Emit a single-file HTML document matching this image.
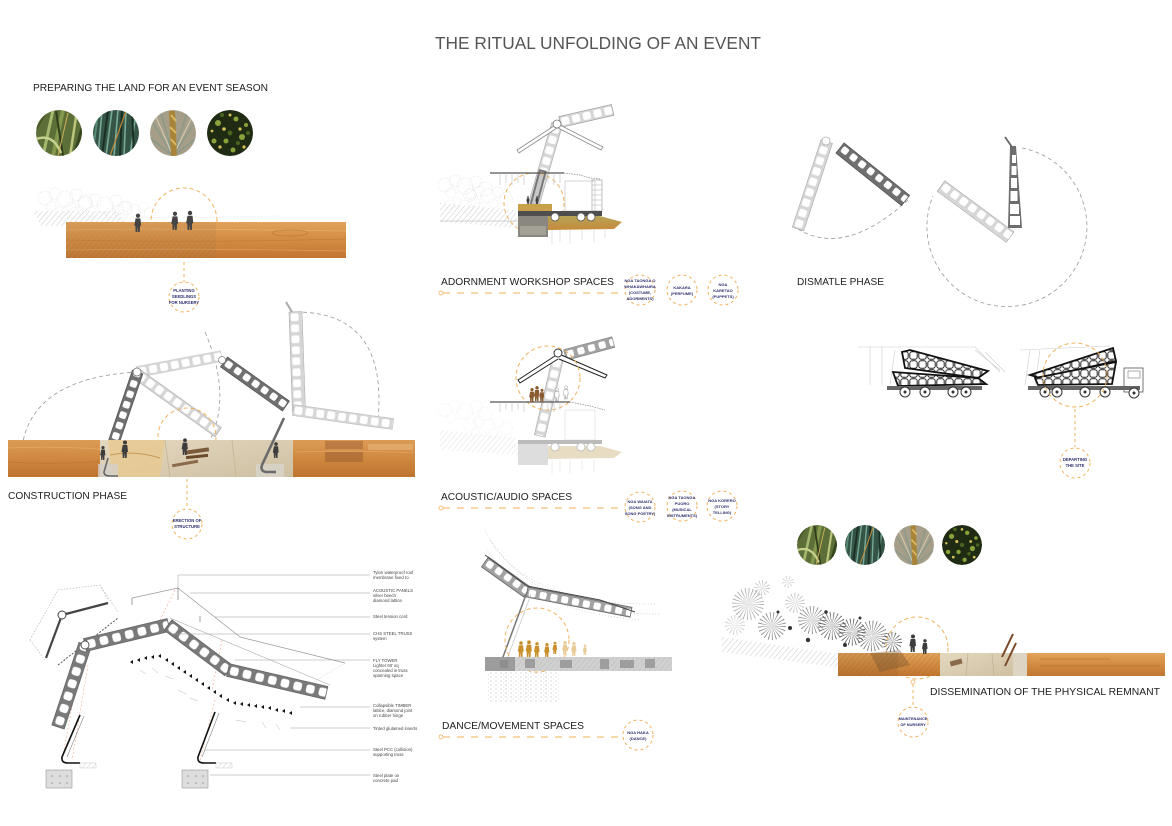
<!DOCTYPE html>
<html><head><meta charset="utf-8"><title>The Ritual Unfolding of an Event</title>
<style>html,body{margin:0;padding:0;background:#fff;}svg{display:block;}text{font-family:"Liberation Sans",sans-serif;}</style></head>
<body>
<svg width="1172" height="826" viewBox="0 0 1172 826" xmlns="http://www.w3.org/2000/svg">
<defs>
<pattern id="dk" width="11" height="11" patternUnits="userSpaceOnUse"><rect width="11" height="11" fill="#707070"/><rect x="2" y="2" width="7" height="7" rx="2" fill="#fff"/></pattern>
<pattern id="md" width="11" height="11" patternUnits="userSpaceOnUse"><rect width="11" height="11" fill="#a2a2a2"/><rect x="2" y="2" width="7" height="7" rx="2" fill="#fff"/></pattern>
<pattern id="lt" width="11" height="11" patternUnits="userSpaceOnUse"><rect width="11" height="11" fill="#d6d6d6"/><rect x="1.6" y="1.6" width="7.8" height="7.8" rx="2" fill="#fff"/></pattern>
<pattern id="dk13" width="13" height="13" patternUnits="userSpaceOnUse"><rect width="13" height="13" fill="#7a7a7a"/><rect x="2.3" y="2.3" width="8.4" height="8.4" rx="2.4" fill="#fff"/></pattern>
<pattern id="bk" width="9" height="9" patternUnits="userSpaceOnUse"><rect width="9" height="9" fill="#fff"/><rect x="0.8" y="0.8" width="7.4" height="7.4" rx="2.2" fill="none" stroke="#222" stroke-width="1"/></pattern>
<pattern id="hatch" width="4" height="4" patternUnits="userSpaceOnUse" patternTransform="rotate(40)"><line x1="0" y1="0" x2="0" y2="4" stroke="#b5b5b5" stroke-width="0.7"/></pattern>
<pattern id="hatchD" width="4" height="4" patternUnits="userSpaceOnUse" patternTransform="rotate(40)"><line x1="0" y1="0" x2="0" y2="4" stroke="#8a5a2a" stroke-width="0.6"/></pattern>
<pattern id="dots" width="5" height="4" patternUnits="userSpaceOnUse"><circle cx="1" cy="1" r="0.5" fill="#999"/><circle cx="3.5" cy="3" r="0.4" fill="#bbb"/></pattern>
<linearGradient id="wood" x1="0" y1="0" x2="0" y2="1"><stop offset="0" stop-color="#e2a35a"/><stop offset="0.45" stop-color="#d48e44"/><stop offset="1" stop-color="#c27630"/></linearGradient>
<linearGradient id="wood2" x1="0" y1="0" x2="0" y2="1"><stop offset="0" stop-color="#dc9c55"/><stop offset="0.5" stop-color="#cf8840"/><stop offset="1" stop-color="#bd742f"/></linearGradient>
<linearGradient id="stone" x1="0" y1="0" x2="1" y2="1"><stop offset="0" stop-color="#e4d8c0"/><stop offset="1" stop-color="#cfc0a2"/></linearGradient>
<linearGradient id="olive" x1="0" y1="0" x2="0" y2="1"><stop offset="0" stop-color="#b7a458"/><stop offset="1" stop-color="#c68a3a"/></linearGradient>
<g id="person"><circle cx="0" cy="-15.5" r="2"/><path d="M-2.3,-13 h4.6 l0.7,7 h-1.1 l-0.2,6 h-1.6 l-0.4,-5 -0.4,5 h-1.6 l-0.2,-6 h-1.100z"/></g>
<clipPath id="cc"><circle cx="0" cy="0" r="23"/></clipPath>
<g id="c1"><g clip-path="url(#cc)"><circle r="23" fill="#5d6f38"/>
<path d="M-16,23 L-6,-23" stroke="#a6b86e" stroke-width="3"/><path d="M-6,23 L4,-23" stroke="#84984e" stroke-width="4"/><path d="M4,23 L-3,-22" stroke="#2f3d1a" stroke-width="2"/><path d="M11,23 L17,-16" stroke="#bcc67c" stroke-width="2.5"/><path d="M-23,6 Q-6,0 2,20" stroke="#c6d28c" stroke-width="2.5" fill="none"/><path d="M15,23 L23,-5" stroke="#36461e" stroke-width="3"/><path d="M-23,-4 L-12,-23" stroke="#4a5a2a" stroke-width="3"/><path d="M-1,23 L9,-20" stroke="#d2b25a" stroke-width="1"/></g></g>
<g id="c2"><g clip-path="url(#cc)"><circle r="23" fill="#345446"/>
<path d="M-18,23 L-14,-23 M-10,23 L-4,-23 M-2,23 L2,-23 M8,23 L10,-23 M14,23 L20,-20" stroke="#79aa98" stroke-width="1.6"/><path d="M-14,23 L-8,-23 M4,23 L6,-23 M18,23 L16,-23" stroke="#1c2f25" stroke-width="2"/><path d="M-6,23 L10,-22" stroke="#c08a3a" stroke-width="1.2"/><path d="M-22,10 L-18,-20" stroke="#5b8a76" stroke-width="2"/></g></g>
<g id="c3"><g clip-path="url(#cc)"><circle r="23" fill="#a69e88"/>
<path d="M0,23 L-20,-10 M0,23 L-12,-20 M0,23 L20,-8 M0,23 L14,-20 M0,23 L-23,5 M0,23 L23,6" stroke="#8a9a8a" stroke-width="1.5"/><path d="M0,23 L-17,-16 M0,23 L18,-14" stroke="#d0c8b0" stroke-width="1.2"/><path d="M1,23 L-1,-22" stroke="#a8843a" stroke-width="6"/><path d="M-2,-18 L3,-12 M-3,-6 L3,0 M-2,6 L3,12" stroke="#d8b860" stroke-width="2"/></g></g>
<g id="c4"><g clip-path="url(#cc)"><circle r="23" fill="#1f2b12"/>
<g fill="#8aa23a"><circle cx="-12" cy="-10" r="3"/><circle cx="6" cy="-14" r="2.5"/><circle cx="12" cy="4" r="3"/><circle cx="-4" cy="8" r="2.5"/><circle cx="-16" cy="8" r="2.5"/><circle cx="3" cy="17" r="2.5"/><circle cx="16" cy="-8" r="2"/></g>
<g fill="#d6c25a"><circle cx="-6" cy="-4" r="1.8"/><circle cx="10" cy="-4" r="1.6"/><circle cx="-10" cy="14" r="1.6"/><circle cx="14" cy="14" r="1.6"/><circle cx="0" cy="-18" r="1.5"/><circle cx="-18" cy="-2" r="1.4"/></g>
<g fill="#4a6420"><circle cx="0" cy="0" r="2.5"/><circle cx="-8" cy="-18" r="2"/><circle cx="18" cy="0" r="2"/><circle cx="8" cy="10" r="2"/></g></g></g>
<g id="sk" fill="none" stroke="#d6d6d6" stroke-width="0.6" stroke-dasharray="1.2 1.3" opacity="0.8"><circle cx="0" cy="0" r="7"/><circle cx="10" cy="-4" r="6"/><circle cx="20" cy="1" r="8"/><circle cx="31" cy="-3" r="6"/><circle cx="6" cy="8" r="5"/><circle cx="26" cy="9" r="5"/><circle cx="40" cy="4" r="7"/></g>
</defs>

<!-- TITLE -->
<text x="435" y="49" font-size="17.5" fill="#555" textLength="326" lengthAdjust="spacingAndGlyphs">THE RITUAL UNFOLDING OF AN EVENT</text>

<!-- ============ PREPARING THE LAND ============ -->
<text x="33" y="91" font-size="10.5" fill="#222" textLength="235" lengthAdjust="spacingAndGlyphs">PREPARING THE LAND FOR AN EVENT SEASON</text>
<use href="#c1" transform="translate(59,133)"/>
<use href="#c2" transform="translate(116,133)"/>
<use href="#c3" transform="translate(173,133)"/>
<use href="#c4" transform="translate(230,133)"/>

<use href="#sk" transform="translate(45,198)"/>
<use href="#sk" transform="translate(85,204)"/>
<use href="#sk" transform="translate(118,210) scale(0.8)"/>
<use href="#sk" transform="translate(60,212) scale(0.7)"/>
<polygon points="33,211 118,211 126,226 41,226" fill="url(#hatch)"/>
<line x1="150" y1="218" x2="280" y2="216" stroke="#ddd" stroke-width="0.6" stroke-dasharray="1 2"/>
<circle cx="184" cy="221" r="33" fill="none" stroke="#f0b35e" stroke-width="1" stroke-dasharray="4 3"/>
<rect x="66" y="222" width="280" height="36" fill="url(#wood)"/>
<g stroke-width="0.8" fill="none"><path d="M66,230 Q160,228 346,231" stroke="#e9b777" opacity="0.7"/><path d="M66,240 Q200,243 346,239" stroke="#b8702e" opacity="0.5"/><path d="M66,250 Q200,248 346,251" stroke="#e8b070" opacity="0.6"/><ellipse cx="290" cy="233" rx="18" ry="3" stroke="#b06a2a" opacity="0.6"/></g>
<rect x="66" y="222" width="150" height="36" fill="url(#hatch)" opacity="0.5"/>
<rect x="66" y="222" width="150" height="36" fill="#a06030" opacity="0.12"/>
<line x1="184" y1="262" x2="184" y2="282" stroke="#f0b35e" stroke-width="1" stroke-dasharray="3 3"/>
<g fill="#444"><use href="#person" transform="translate(138,232) scale(1.05)"/><use href="#person" transform="translate(175,230) scale(1.05)"/><use href="#person" transform="translate(190,230) scale(1.1)"/></g>
<circle cx="184" cy="297" r="15" fill="#fff" stroke="#f0b35e" stroke-width="1" stroke-dasharray="3 3"/>
<g font-size="4.2" font-weight="bold" fill="#2e3070" text-anchor="middle"><text x="184" y="292">PLANTING</text><text x="184" y="298">SEEDLINGS</text><text x="184" y="304">FOR NURSERY</text></g>

<!-- ============ CONSTRUCTION PHASE ============ -->
<g fill="none" stroke="#9a9a9a" stroke-width="0.8" stroke-dasharray="4 3"><path d="M22,447 Q32,378 137,372"/><path d="M296,312 Q388,312 378,420"/><path d="M205,332 Q232,395 210,440"/></g>
<g transform="translate(137,372) rotate(-10.7) translate(0,-5.5)"><rect width="86" height="11" fill="url(#lt)" stroke="#ccc" stroke-width="0.5"/></g>
<g transform="translate(137,374) rotate(35.6) translate(0,-5.5)"><rect width="100" height="11" fill="url(#lt)" stroke="#aaa" stroke-width="0.6"/></g>
<g transform="translate(289,312) rotate(-2)"><rect width="13" height="100" fill="url(#lt)" stroke="#aaa" stroke-width="0.6"/></g>
<g transform="translate(293,410) rotate(8) translate(0,-5.5)"><rect width="101" height="11" fill="url(#lt)" stroke="#bbb" stroke-width="0.5"/></g>
<g transform="translate(224,362) rotate(35.4) translate(0,-6)"><rect width="76" height="12" fill="url(#dk)" stroke="#555" stroke-width="0.8"/></g>
<g transform="translate(107,462) rotate(-71.2) translate(0,-5.5)"><rect width="95" height="11" fill="url(#dk)" stroke="#555" stroke-width="0.8"/></g>
<circle cx="137" cy="372" r="4" fill="#fff" stroke="#777" stroke-width="0.8"/>
<circle cx="222" cy="360" r="3.5" fill="#fff" stroke="#888" stroke-width="0.8"/>
<path d="M292,312 L286,302" stroke="#aaa" stroke-width="2"/>
<circle cx="187" cy="437" r="29" fill="none" stroke="#f0b35e" stroke-width="1" stroke-dasharray="4 3"/>
<rect x="8" y="440" width="407" height="37" fill="url(#wood2)"/>
<g stroke-width="0.8" fill="none"><path d="M8,448 Q50,446 100,449" stroke="#eab070" opacity="0.7"/><path d="M8,462 Q60,465 100,461" stroke="#b26a2a" opacity="0.5"/><path d="M295,452 Q350,450 415,453" stroke="#e8b070" opacity="0.6"/></g>
<polygon points="100,440 293,440 293,477 100,477" fill="url(#stone)"/>
<polygon points="108,440 165,440 160,477 112,477" fill="#e7c992" opacity="0.85"/>
<path d="M110,455 Q135,450 160,458" stroke="#c89a5a" stroke-width="1" fill="none"/>
<rect x="185" y="449" width="24" height="4" fill="#7a5a3a" transform="rotate(-8 197 451)"/>
<rect x="186" y="455" width="22" height="3" fill="#6a4a2a" transform="rotate(-6 197 456)"/>
<rect x="172" y="462" width="26" height="3" fill="#8a6a4a" transform="rotate(-10 185 463)"/>
<path d="M165,440 L170,477 M232,440 L236,477" stroke="#c4b494" stroke-width="0.8"/>
<rect x="325" y="441" width="38" height="8" fill="#a8693a" opacity="0.6"/><rect x="325" y="452" width="38" height="10" fill="#9a5e32" opacity="0.55"/><rect x="368" y="444" width="45" height="6" fill="#e6b57c" opacity="0.6"/>
<rect x="98" y="464" width="20" height="13" fill="#d4d0c8" opacity="0.8"/><rect x="256" y="464" width="28" height="13" fill="#d8d4cc" opacity="0.8"/>
<path d="M108,458 L104,472 Q104,476 110,476 L118,476" stroke="#666" stroke-width="1.6" fill="none"/>
<path d="M284,418 L262,465 Q260,471 266,472 L276,472" stroke="#6b6b6b" stroke-width="2.6" fill="none"/>
<g fill="#3d3d3d"><use href="#person" transform="translate(103,460) scale(0.8)"/><use href="#person" transform="translate(125,458) scale(1)"/><use href="#person" transform="translate(185,455) scale(0.95)"/><use href="#person" transform="translate(276,458) scale(0.9)"/></g>
<text x="8" y="499" font-size="10.5" fill="#222" textLength="119" lengthAdjust="spacingAndGlyphs">CONSTRUCTION PHASE</text>
<line x1="187" y1="479" x2="187" y2="508" stroke="#f0b35e" stroke-width="1" stroke-dasharray="3 3"/>
<circle cx="187" cy="524" r="15" fill="#fff" stroke="#f0b35e" stroke-width="1" stroke-dasharray="3 3"/>
<g font-size="4.2" font-weight="bold" fill="#2e3070" text-anchor="middle"><text x="187" y="522">ERECTION OF</text><text x="187" y="528">STRUCTURE</text></g>

<!-- ============ STRUCTURAL DIAGRAM (bottom-left) ============ -->
<g fill="none" stroke="#b0b0b0" stroke-width="0.6" stroke-dasharray="1.5 1.5"><path d="M30,640 L58,590 L100,585 L108,600"/><path d="M30,640 L45,660"/><path d="M100,585 L118,612"/></g>
<path d="M62,615 L46,658" stroke="#444" stroke-width="2.2"/><path d="M62,615 L108,603" stroke="#444" stroke-width="2.2"/>
<circle cx="62" cy="615" r="4" fill="#fff" stroke="#444" stroke-width="1"/>
<path d="M58,665 L118,618" stroke="#555" stroke-width="1" stroke-dasharray="2 1.5"/>
<path d="M132,598 L178,588 L240,637 L345,663" fill="none" stroke="#999" stroke-width="0.7"/>
<path d="M132,598 L132,605 M178,588 L178,600 M200,616 L200,622" stroke="#777" stroke-width="0.7"/>
<path d="M345,663 L300,690" stroke="#bbb" stroke-width="0.5" stroke-dasharray="1 1.5"/>
<g stroke="#f2a890" stroke-width="0.6" stroke-dasharray="2 2" fill="none"><path d="M80,665 L62,760"/><path d="M88,665 L72,760"/><path d="M215,700 L200,760"/><path d="M175,590 L160,620"/><path d="M222,640 L212,690"/></g>
<g transform="translate(58,727) rotate(-71.8) translate(0,-6.5)"><rect width="87" height="13" fill="url(#dk13)" stroke="#666" stroke-width="0.8"/></g>
<g transform="translate(85,645) rotate(-13.5) translate(0,-6.5)"><rect width="86" height="13" fill="url(#dk13)" stroke="#666" stroke-width="0.8"/></g>
<g transform="translate(168,625) rotate(36.9) translate(0,-6.5)"><rect width="76" height="13" fill="url(#dk13)" stroke="#666" stroke-width="0.8"/></g>
<g transform="translate(228,670) rotate(13.1) translate(0,-6.5)"><rect width="101" height="13" fill="url(#dk13)" stroke="#666" stroke-width="0.8"/></g>
<path d="M170,618 L330,685" stroke="#aaa" stroke-width="0.6"/>
<circle cx="85" cy="645" r="4" fill="#fff" stroke="#555" stroke-width="1"/>
<g fill="#111"><path d="M130,662 l3,-2 l0,4z"/><path d="M137,660 l3,-2 l0,4z"/><path d="M144,658 l3,-2 l0,4z"/><path d="M151,657 l3,-2 l0,4z"/><path d="M158,656 l3,-2 l0,4z"/><path d="M165,660 l3,-2 l0,4z"/><path d="M171,664 l3,-2 l0,4z"/><path d="M177,668 l3,-2 l0,4z"/><path d="M183,672 l3,-2 l0,4z"/><path d="M189,676 l3,-2 l0,4z"/><path d="M195,680 l3,-2 l0,4z"/><path d="M201,684 l3,-2 l0,4z"/><path d="M207,688 l3,-2 l0,4z"/><path d="M213,692 l3,-2 l0,4z"/><path d="M219,696 l3,-2 l0,4z"/><path d="M226,700 l3,-2 l0,4z"/><path d="M233,703 l3,-2 l0,4z"/><path d="M240,704 l3,-2 l0,4z"/><path d="M247,705 l3,-2 l0,4z"/><path d="M254,706 l3,-2 l0,4z"/><path d="M261,707 l3,-2 l0,4z"/><path d="M268,708 l3,-2 l0,4z"/><path d="M275,710 l3,-2 l0,4z"/><path d="M282,711 l3,-2 l0,4z"/><path d="M289,713 l3,-2 l0,4z"/></g>
<g stroke="#bbb" stroke-width="0.5" fill="none"><path d="M140,670 l6,4 M152,668 l6,5 M165,676 l8,3 M178,690 l8,4 M190,698 l8,3 M236,720 l10,2 M262,722 l4,6 M276,724 l4,6"/></g>
<path d="M80,715 L62,757 Q61,763 68,763 L80,763" stroke="#111" stroke-width="1.6" fill="none"/>
<path d="M84,716 L67,757" stroke="#888" stroke-width="0.6"/>
<path d="M215,712 L198,757 Q197,763 204,763 L216,763" stroke="#111" stroke-width="1.6" fill="none"/>
<path d="M219,713 L202,757" stroke="#888" stroke-width="0.6"/>
<rect x="80" y="763" width="16" height="5" fill="url(#hatch)" stroke="#bbb" stroke-width="0.4"/><rect x="216" y="763" width="16" height="5" fill="url(#hatch)" stroke="#bbb" stroke-width="0.4"/>
<rect x="46" y="770" width="26" height="18" fill="#ddd" stroke="#999" stroke-width="0.6"/><rect x="182" y="770" width="26" height="18" fill="#ddd" stroke="#999" stroke-width="0.6"/>
<g fill="#999"><circle cx="52" cy="776" r="0.8"/><circle cx="60" cy="776" r="0.8"/><circle cx="67" cy="776" r="0.8"/><circle cx="52" cy="783" r="0.8"/><circle cx="60" cy="783" r="0.8"/><circle cx="67" cy="783" r="0.8"/><circle cx="188" cy="776" r="0.8"/><circle cx="196" cy="776" r="0.8"/><circle cx="203" cy="776" r="0.8"/><circle cx="188" cy="783" r="0.8"/><circle cx="196" cy="783" r="0.8"/><circle cx="203" cy="783" r="0.8"/></g>
<g stroke="#999" stroke-width="0.5"><path d="M178,575 L370,575 M178,575 L178,588"/><path d="M190,593 L370,593"/><path d="M215,617 L370,617"/><path d="M172,634 L370,634"/><path d="M235,660 L370,660"/><path d="M300,707 L370,707"/><path d="M290,728 L370,728"/><path d="M205,750 L370,750"/><path d="M210,775 L370,775"/></g>
<g font-family="'Liberation Serif',serif" font-size="4.3" fill="#444">
<text x="373" y="574">Tylon waterproof roof</text><text x="373" y="579">membrane fixed to</text>
<text x="373" y="592">ACOUSTIC PANELS</text><text x="373" y="597">silver beech</text><text x="373" y="602">diamond lattice</text>
<text x="373" y="618">Steel tension cord</text>
<text x="373" y="635">CHS STEEL TRUSS</text><text x="373" y="640">system</text>
<text x="373" y="662">FLY TOWER</text><text x="373" y="667">Lighter 60' sq</text><text x="373" y="672">concealed in truss</text><text x="373" y="677">spanning space</text>
<text x="373" y="707">Collapsible TIMBER</text><text x="373" y="712">lattice, diamond joint</text><text x="373" y="717">on rubber hinge</text>
<text x="373" y="730">Tinted glulamed inserts</text>
<text x="373" y="751">Steel PCC (collision)</text><text x="373" y="756">supporting truss</text>
<text x="373" y="777">Steel plate on</text><text x="373" y="782">concrete pad</text></g>

<!-- ============ ADORNMENT ============ -->
<use href="#sk" transform="translate(445,185)"/><use href="#sk" transform="translate(470,195) scale(0.9)"/><use href="#sk" transform="translate(450,205) scale(0.7)"/>
<polygon points="440,203 515,210 520,228 440,222" fill="url(#hatch)"/>
<line x1="440" y1="221" x2="520" y2="221" stroke="#aaa" stroke-width="0.6"/>
<g transform="translate(557,124) rotate(106.1) translate(0,-5.5)"><rect width="86" height="11" fill="url(#lt)" stroke="#aaa" stroke-width="0.6"/></g>
<g transform="translate(543,170) rotate(105) translate(0,-4)"><rect width="38" height="8" fill="#777"/><rect x="2" y="2" width="34" height="4" fill="#fff" opacity="0.6"/></g>
<g transform="translate(560,122) rotate(-13) translate(0,-5.5)"><rect width="54" height="11" fill="url(#lt)" stroke="#999" stroke-width="0.7"/></g>
<path d="M557,124 L517,150 L519,153 L557,128" fill="#fff" stroke="#888" stroke-width="0.8"/>
<path d="M558,124 L603,147 L601,150 L558,128" fill="#fff" stroke="#888" stroke-width="0.8"/>
<circle cx="557" cy="124" r="4" fill="#fff" stroke="#777" stroke-width="0.8"/>
<circle cx="534" cy="203" r="30" fill="none" stroke="#f0b35e" stroke-width="1" stroke-dasharray="4 3"/>
<line x1="490" y1="173" x2="564" y2="173" stroke="#555" stroke-width="1.2"/>
<path d="M564,173 L572,174 L580,175 L590,178 L600,179" stroke="#888" stroke-width="0.7" stroke-dasharray="1.5 1" fill="none"/>
<g stroke="#b5b5b5" stroke-width="0.5"><path d="M500,173v12 M506,173v10 M512,173v12 M518,173v10 M524,173v12 M548,173v10 M554,173v12 M560,173v10"/></g>
<rect x="565" y="181" width="30" height="30" fill="none" stroke="#bbb" stroke-width="0.6"/>
<rect x="592" y="180" width="10" height="31" fill="none" stroke="#999" stroke-width="0.6"/>
<g stroke="#aaa" stroke-width="0.5"><path d="M592,185h10 M592,190h10 M592,195h10 M592,200h10 M592,205h10"/></g>
<rect x="518" y="216" width="30" height="21" fill="#8a887e"/><rect x="520" y="226" width="26" height="9" fill="#a5a095"/>
<polygon points="548,216 600,216 622,222 614,229 548,230" fill="url(#olive)"/>
<rect x="518" y="211" width="84" height="5" fill="#4e4e4e"/>
<rect x="518" y="204" width="34" height="7" fill="#c9a04c"/>
<g fill="#3a3a3a"><use href="#person" transform="translate(528,204) scale(0.45)"/><use href="#person" transform="translate(537,204) scale(0.45)"/></g>
<g fill="#fff" stroke="#555" stroke-width="0.8"><circle cx="555" cy="217" r="4"/><circle cx="581" cy="217" r="4"/><circle cx="591" cy="217" r="4"/></g>
<g stroke="#ccc" stroke-width="0.5"><path d="M552,230v14 M560,230v12 M570,230v14 M582,230v10 M594,230v12 M605,228v10"/></g>
<text x="441" y="285" font-size="10.5" fill="#222" textLength="173" lengthAdjust="spacingAndGlyphs">ADORNMENT WORKSHOP SPACES</text>
<line x1="443" y1="293" x2="625" y2="293" stroke="#f0b35e" stroke-width="1" stroke-dasharray="7 7"/>
<circle cx="441" cy="293" r="2" fill="#fff" stroke="#f0b35e" stroke-width="0.8"/>
<g fill="#fff" stroke="#f0b35e" stroke-width="1" stroke-dasharray="3 3"><circle cx="640" cy="290" r="15"/><circle cx="682" cy="290" r="15"/><circle cx="723" cy="290" r="15"/></g>
<g font-size="4" font-weight="bold" fill="#2e3070" text-anchor="middle">
<text x="640" y="282">NGA TAONGA O</text><text x="640" y="288">WHAKAWHAIRA</text><text x="640" y="294">(COSTUME,</text><text x="640" y="300">ADORMENTS)</text>
<text x="682" y="289">KAKARA</text><text x="682" y="295">(PERFUME)</text>
<text x="723" y="286">NGA</text><text x="723" y="292">KARETAO</text><text x="723" y="298">(PUPPETS)</text></g>

<!-- ============ ACOUSTIC ============ -->
<use href="#sk" transform="translate(445,410)" opacity="0.6"/><use href="#sk" transform="translate(470,425) scale(0.9)" opacity="0.6"/>
<polygon points="440,430 515,437 520,455 440,450" fill="url(#hatch)" opacity="0.6"/>
<g transform="translate(558,358) rotate(103.2) translate(0,-5.5)"><rect width="80" height="11" fill="url(#lt)" stroke="#aaa" stroke-width="0.6"/></g>
<g transform="translate(565,355) rotate(-15) translate(0,-5.5)"><rect width="50" height="11" fill="url(#md)" stroke="#888" stroke-width="0.7"/></g>
<path d="M558,354 L518,380 L520,383 L558,359" fill="#fff" stroke="#222" stroke-width="1"/>
<path d="M559,354 L607,375 L605,378 L559,359" fill="#fff" stroke="#222" stroke-width="1"/>
<circle cx="558" cy="353" r="4" fill="#fff" stroke="#333" stroke-width="1"/>
<circle cx="548" cy="378" r="32" fill="none" stroke="#f0b35e" stroke-width="1" stroke-dasharray="4 3"/>
<line x1="490" y1="402" x2="570" y2="402" stroke="#555" stroke-width="1.2"/>
<path d="M570,402 L580,404 L590,406 L605,410" stroke="#888" stroke-width="0.7" stroke-dasharray="1.5 1" fill="none"/>
<g stroke="#b5b5b5" stroke-width="0.5"><path d="M500,402v10 M506,402v8 M512,402v10 M518,402v8 M524,402v10 M548,402v8 M554,402v10 M560,402v8"/></g>
<g fill="#8a5a30"><use href="#person" transform="translate(532,402) scale(0.8)"/><use href="#person" transform="translate(537,401) scale(0.85)"/><use href="#person" transform="translate(542,402) scale(0.75)"/></g>
<g fill="#fff" stroke="#777" stroke-width="0.5"><use href="#person" transform="translate(557,401) scale(0.75)"/><use href="#person" transform="translate(566,399) scale(0.75)"/></g>
<rect x="565" y="410" width="30" height="30" fill="none" stroke="#ddd" stroke-width="0.6"/>
<rect x="518" y="443" width="30" height="22" fill="#ddd"/>
<polygon points="548,446 600,446 622,452 614,458 548,459" fill="#e8dcc2"/>
<rect x="518" y="440" width="84" height="4" fill="#bbb"/>
<g fill="#fff" stroke="#bbb" stroke-width="0.8"><circle cx="555" cy="447" r="4"/><circle cx="581" cy="447" r="4"/><circle cx="591" cy="447" r="4"/></g>
<g stroke="#ddd" stroke-width="0.5"><path d="M552,460v14 M560,460v12 M570,460v14 M582,460v10 M594,460v12"/></g>
<text x="441" y="500" font-size="10.5" fill="#222" textLength="131" lengthAdjust="spacingAndGlyphs">ACOUSTIC/AUDIO SPACES</text>
<line x1="443" y1="508" x2="625" y2="508" stroke="#f0b35e" stroke-width="1" stroke-dasharray="7 7"/>
<circle cx="441" cy="508" r="2" fill="#fff" stroke="#f0b35e" stroke-width="0.8"/>
<g fill="#fff" stroke="#f0b35e" stroke-width="1" stroke-dasharray="3 3"><circle cx="640" cy="507" r="15"/><circle cx="682" cy="506" r="15"/><circle cx="722" cy="506" r="15"/></g>
<g font-size="4" font-weight="bold" fill="#2e3070" text-anchor="middle">
<text x="640" y="503">NGA WAIATA</text><text x="640" y="509">(SONG AND</text><text x="640" y="515">SONG POETRY)</text>
<text x="682" y="499">NGA TAONGA</text><text x="682" y="505">PUORO</text><text x="682" y="511">(MUSICAL</text><text x="682" y="517">INSTRUMENTS)</text>
<text x="722" y="502">NGA KORERO</text><text x="722" y="508">(STORY</text><text x="722" y="514">TELLING)</text></g>

<!-- ============ DANCE ============ -->
<g fill="none" stroke="#c8c8c8" stroke-width="0.7" stroke-dasharray="1 2"><path d="M485,530 Q520,605 655,604"/><path d="M490,540 Q540,615 660,614"/><path d="M486,548 Q525,610 640,620"/></g>
<g transform="translate(485,562) rotate(35.5) translate(0,-6)"><rect width="52" height="12" fill="url(#md)" stroke="#666" stroke-width="0.8"/></g>
<g transform="translate(527,592) rotate(11) translate(0,-5)"><rect width="106" height="10" fill="url(#md)" stroke="#666" stroke-width="0.8"/></g>
<path d="M485,555 L527,586 L600,600 L635,612" fill="none" stroke="#444" stroke-width="1"/>
<path d="M527,592 L500,665" stroke="#777" stroke-width="1.5"/><path d="M531,594 L505,665" stroke="#bbb" stroke-width="0.6"/>
<circle cx="537" cy="640" r="32" fill="none" stroke="#f0b35e" stroke-width="1" stroke-dasharray="4 3"/>
<rect x="485" y="657" width="187" height="14" fill="#d0d0d0"/>
<rect x="485" y="657" width="187" height="14" fill="url(#hatch)"/>
<g fill="#8a8a8a" opacity="0.7"><rect x="500" y="660" width="8" height="8"/><rect x="525" y="659" width="10" height="9"/><rect x="560" y="660" width="12" height="8"/><rect x="600" y="659" width="9" height="10"/><rect x="620" y="660" width="14" height="8"/><rect x="645" y="659" width="10" height="9"/></g>
<rect x="485" y="657" width="30" height="14" fill="#888" opacity="0.7"/>
<g fill="#c8902c"><use href="#person" transform="translate(521,657) scale(0.9)"/><use href="#person" transform="translate(529,657) scale(0.95)"/><use href="#person" transform="translate(537,657) scale(0.85)"/><use href="#person" transform="translate(547,657) scale(0.8)"/><use href="#person" transform="translate(555,654) scale(0.7)"/></g>
<g fill="#e8cc98"><use href="#person" transform="translate(565,655) scale(0.8)"/><use href="#person" transform="translate(574,656) scale(0.8)"/><use href="#person" transform="translate(585,655) scale(0.6)"/></g>
<rect x="488" y="672" width="72" height="30" fill="url(#dots)"/>
<text x="442" y="729" font-size="10.5" fill="#222" textLength="142" lengthAdjust="spacingAndGlyphs">DANCE/MOVEMENT SPACES</text>
<line x1="443" y1="737" x2="623" y2="737" stroke="#f0b35e" stroke-width="1" stroke-dasharray="7 7"/>
<circle cx="441" cy="737" r="2" fill="#fff" stroke="#f0b35e" stroke-width="0.8"/>
<circle cx="638" cy="735" r="15" fill="#fff" stroke="#f0b35e" stroke-width="1" stroke-dasharray="3 3"/>
<g font-size="4" font-weight="bold" fill="#2e3070" text-anchor="middle"><text x="638" y="734">NGA HAKA</text><text x="638" y="740">(DANCE)</text></g>

<!-- ============ DISMANTLE ============ -->
<path d="M798,229 Q845,258 909,199" fill="none" stroke="#999" stroke-width="0.8" stroke-dasharray="4 3"/>
<g transform="translate(798,229) rotate(-71.8) translate(0,-6)"><rect width="92" height="12" fill="url(#lt)" stroke="#aaa" stroke-width="0.6"/></g>
<circle cx="826" cy="141" r="4" fill="#fff" stroke="#aaa" stroke-width="0.7"/>
<g transform="translate(840,148) rotate(38.7) translate(0,-6.5)"><rect width="84" height="13" fill="url(#dk)" stroke="#555" stroke-width="0.8"/></g>
<path d="M1022,148 A80,80 0 1 1 933,196" fill="none" stroke="#999" stroke-width="0.8" stroke-dasharray="4 3"/>
<g transform="translate(941,186) rotate(36.5) translate(0,-6.5)"><rect width="86" height="13" fill="url(#lt)" stroke="#aaa" stroke-width="0.6"/></g>
<polygon points="1010,146 1016,146 1022,228 1008,228" fill="#6e6e6e"/>
<g fill="#fff"><rect x="1012" y="155" width="4" height="8"/><rect x="1011.5" y="166" width="5" height="9"/><rect x="1011" y="178" width="6" height="10"/><rect x="1010.5" y="191" width="7" height="10"/><rect x="1010" y="204" width="9" height="10"/><rect x="1010" y="216" width="10" height="9"/></g>
<path d="M1005,137 L1012,147" stroke="#666" stroke-width="1.8"/>
<text x="797" y="285" font-size="10.5" fill="#222" textLength="87" lengthAdjust="spacingAndGlyphs">DISMATLE PHASE</text>

<!-- ============ TRUCKS ============ -->
<g stroke="#ccc" stroke-width="0.6" fill="none"><path d="M858,347 L975,347 L1000,372"/><path d="M870,347 L870,385 M882,347 L882,385 M895,350 L890,385"/><path d="M975,350 L1000,370 M985,352 L1005,372"/><path d="M1020,350 L1110,346"/><path d="M1030,350 L1025,385 M1040,350 L1035,385"/></g>
<polygon points="902,352 910,350 988,371 978,378 905,368" fill="url(#bk)" stroke="#111" stroke-width="1.8"/>
<polygon points="893,372 978,378 986,384 898,386" fill="url(#bk)" stroke="#111" stroke-width="1.8"/>
<rect x="887" y="386" width="95" height="4" fill="#666"/>
<g fill="#fff" stroke="#333" stroke-width="1"><circle cx="905" cy="392" r="5"/><circle cx="925" cy="392" r="5"/><circle cx="953" cy="392" r="5"/><circle cx="966" cy="392" r="5"/></g>
<g fill="#333"><circle cx="905" cy="392" r="1.5"/><circle cx="925" cy="392" r="1.5"/><circle cx="953" cy="392" r="1.5"/><circle cx="966" cy="392" r="1.5"/></g>
<polygon points="1030,375 1113,348 1116,361 1040,378" fill="url(#bk)" stroke="#111" stroke-width="1.8"/>
<polygon points="1035,378 1116,362 1112,384 1038,385" fill="url(#bk)" stroke="#111" stroke-width="1.8"/>
<rect x="1124" y="368" width="19" height="24" fill="#fff" stroke="#555" stroke-width="0.8"/><rect x="1128" y="371" width="12" height="7" fill="none" stroke="#777" stroke-width="0.6"/>
<rect x="1028" y="386" width="112" height="4" fill="#666"/>
<g fill="#fff" stroke="#333" stroke-width="1"><circle cx="1045" cy="392" r="5"/><circle cx="1057" cy="392" r="5"/><circle cx="1085" cy="392" r="5"/><circle cx="1105" cy="392" r="5"/><circle cx="1134" cy="393" r="5"/></g>
<g fill="#333"><circle cx="1045" cy="392" r="1.5"/><circle cx="1057" cy="392" r="1.5"/><circle cx="1085" cy="392" r="1.5"/><circle cx="1105" cy="392" r="1.5"/><circle cx="1134" cy="393" r="1.5"/></g>
<circle cx="1075" cy="375" r="32" fill="none" stroke="#f0b35e" stroke-width="1" stroke-dasharray="4 3"/>
<line x1="1075" y1="409" x2="1075" y2="447" stroke="#f0b35e" stroke-width="1" stroke-dasharray="3 3"/>
<circle cx="1075" cy="463" r="15" fill="#fff" stroke="#f0b35e" stroke-width="1" stroke-dasharray="3 3"/>
<g font-size="4.2" font-weight="bold" fill="#2e3070" text-anchor="middle"><text x="1075" y="461">DEPARTING</text><text x="1075" y="467">THE SITE</text></g>

<!-- ============ DISSEMINATION ============ -->
<use href="#c1" transform="translate(817,545) scale(0.87)"/>
<use href="#c2" transform="translate(865,545) scale(0.87)"/>
<use href="#c3" transform="translate(914,545) scale(0.87)"/>
<use href="#c4" transform="translate(962,545) scale(0.87)"/>
<polygon points="722,637 840,654 840,668 722,652" fill="url(#hatch)"/>
<g fill="none" stroke-dasharray="0.5 1.6">
<circle cx="748" cy="604" r="8" stroke="#aaa" stroke-width="16"/>
<circle cx="772" cy="626" r="7" stroke="#888" stroke-width="14"/>
<circle cx="795" cy="603" r="5" stroke="#bbb" stroke-width="10"/>
<circle cx="812" cy="620" r="7" stroke="#888" stroke-width="14"/>
<circle cx="832" cy="626" r="7" stroke="#666" stroke-width="14"/>
<circle cx="852" cy="632" r="7" stroke="#555" stroke-width="13"/>
<circle cx="872" cy="636" r="8" stroke="#777" stroke-width="15"/>
<circle cx="892" cy="642" r="5" stroke="#555" stroke-width="10"/>
<circle cx="762" cy="588" r="4" stroke="#bbb" stroke-width="8"/>
<circle cx="788" cy="582" r="3" stroke="#ccc" stroke-width="6"/>
<circle cx="735" cy="625" r="5" stroke="#ccc" stroke-width="10"/>
</g>
<g fill="#333"><circle cx="790" cy="628" r="2"/><circle cx="808" cy="640" r="2.2"/><circle cx="826" cy="612" r="1.8"/><circle cx="845" cy="645" r="2"/><circle cx="860" cy="618" r="1.5"/><circle cx="778" cy="612" r="1.5"/></g>
<circle cx="917" cy="648" r="31" fill="none" stroke="#f0b35e" stroke-width="1" stroke-dasharray="4 3"/>
<rect x="838" y="653" width="327" height="23" fill="url(#wood)"/>
<rect x="838" y="653" width="102" height="23" fill="url(#hatchD)" opacity="0.6"/>
<rect x="838" y="653" width="60" height="23" fill="#7a4a20" opacity="0.15"/>
<polygon points="870,653 900,650 910,665 880,672" fill="#6a4a2a" opacity="0.35"/>
<rect x="940" y="653" width="73" height="23" fill="url(#stone)"/>
<path d="M968,653 L966,676 M992,653 L994,676" stroke="#bfb090" stroke-width="0.7"/>
<rect x="950" y="660" width="12" height="5" fill="#8a6a4a" transform="rotate(-15 956 662)"/>
<rect x="1013" y="653" width="14" height="23" fill="#ddd4c4"/>
<path d="M1040,659 L1110,659 M1040,666 L1160,666" stroke="#b06a2a" stroke-width="1.5" opacity="0.35"/>
<path d="M1002,657 L1013,634 M1005,666 L1016,643" stroke="#7a4a2a" stroke-width="2"/>
<g fill="#3d3d3d"><use href="#person" transform="translate(913,652) scale(1)"/><use href="#person" transform="translate(925,654) scale(0.85)"/></g>
<circle cx="913" cy="682" r="2" fill="#fff" stroke="#f0b35e" stroke-width="0.8"/>
<line x1="913" y1="684" x2="913" y2="706" stroke="#f0b35e" stroke-width="1" stroke-dasharray="3 3"/>
<circle cx="913" cy="722" r="15" fill="#fff" stroke="#f0b35e" stroke-width="1" stroke-dasharray="3 3"/>
<g font-size="3.9" font-weight="bold" fill="#2e3070" text-anchor="middle"><text x="913" y="720">MAINTENANCE</text><text x="913" y="726">OF NURSERY</text></g>
<text x="930" y="695" font-size="10.5" fill="#222" textLength="230" lengthAdjust="spacingAndGlyphs">DISSEMINATION OF THE PHYSICAL REMNANT</text>
</svg>
</body></html>
